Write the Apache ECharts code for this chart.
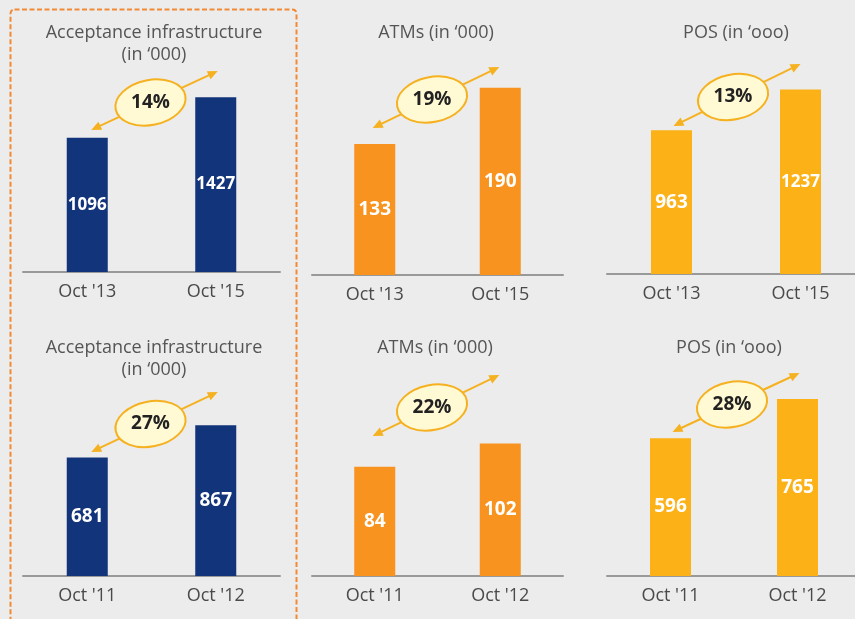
<!DOCTYPE html>
<html>
<head>
<meta charset="utf-8">
<script src="https://cdn.jsdelivr.net/npm/echarts@6/dist/echarts.min.js"></script>
<style>
  html, body { margin: 0; padding: 0; background: #ececec; overflow: hidden; }
  #main { width: 870px; height: 619px; }
</style>
</head>
<body>
<div id="main"></div>
<script>
// chart data
const titles = [
  'Acceptance infrastructure\n(in ‘000)', 'ATMs (in ‘000)', 'POS (in ‘ooo)',
  'Acceptance infrastructure\n(in ‘000)', 'ATMs (in ‘000)', 'POS (in ‘ooo)'
];
const periodsTop = ["Oct '13", "Oct '15"];
const periodsBottom = ["Oct '11", "Oct '12"];
const acceptanceTop = [1096, 1427];
const atmsTop = [133, 190];
const posTop = [963, 1237];
const acceptanceBottom = [681, 867];
const atmsBottom = [84, 102];
const posBottom = [596, 765];
const growth = ['14%', '19%', '13%', '27%', '22%', '28%'];

const periods = [periodsTop, periodsTop, periodsTop, periodsBottom, periodsBottom, periodsBottom];
const values = [acceptanceTop, atmsTop, posTop, acceptanceBottom, atmsBottom, posBottom];

// layout
const colors = ['#12347a', '#f7931e', '#fcb116', '#12347a', '#f7931e', '#fcb116'];
const axisMax = [1600, 200, 1300, 1000, 120, 800];
const grids = [
  { left: 23, width: 257, top: 76, bottom: 619 - 272 },
  { left: 312, width: 251, top: 78, bottom: 619 - 275 },
  { left: 607, width: 258, top: 80, bottom: 619 - 274 },
  { left: 23, width: 257, top: 402, bottom: 619 - 576 },
  { left: 312, width: 251, top: 420, bottom: 619 - 576 },
  { left: 607, width: 254, top: 391, bottom: 619 - 576 }
];
const titlePos = [[154, 22], [436, 22], [736, 22], [154, 337], [435, 337], [729, 337]];
const labelMargin = [11, 11, 11, 11, 11, 11];
// arrow rise above axis at start / end
const arrowRise = [[142, 201], [147, 208], [148, 210], [124, 184], [140, 201], [144, 203]];
const arrowShift = [[4, 2], [-2, -1], [2, 0], [4, 2], [-2, -1], [2, 2]];

const font = '"Open Sans", "Noto Sans", sans-serif';

const chart = echarts.init(document.getElementById('main'));

const option = {
  backgroundColor: '#ececec',
  animation: false,
  title: titles.map((t, i) => ({
    text: t,
    left: titlePos[i][0],
    top: titlePos[i][1],
    textAlign: 'center',
    padding: 0,
    textStyle: { fontFamily: font, fontSize: 18, fontWeight: 'normal', color: '#555', lineHeight: 22 }
  })),
  grid: grids,
  xAxis: periods.map((p, i) => ({
    type: 'category',
    gridIndex: i,
    data: p,
    axisTick: { show: false },
    axisLine: { lineStyle: { color: '#999', width: 2 } },
    axisLabel: { fontFamily: font, fontSize: 18, color: '#4a4a4a', margin: labelMargin[i] }
  })),
  yAxis: values.map((v, i) => ({
    type: 'value',
    gridIndex: i,
    min: 0,
    max: axisMax[i],
    show: false,
    splitLine: { show: false }
  })),
  series: values.map((v, i) => ({
    type: 'bar',
    xAxisIndex: i,
    yAxisIndex: i,
    data: v,
    barWidth: 41,
    itemStyle: { color: colors[i] },
    label: {
      show: true,
      position: 'inside',
      fontFamily: font,
      fontSize: 19,
      fontWeight: 'bold',
      color: '#fff',
      // four-digit numbers are squeezed to fit the bar in the original
      formatter: p => p.value >= 1000 ? '{n|' + p.value + '}' : String(p.value),
      rich: {
        n: { fontFamily: font, fontSize: 17, fontWeight: 'bold', color: '#fff' }
      }
    }
  }))
};
chart.setOption(option);

// growth annotations: double arrow with ellipse badge
const arrowColor = '#f5b120';
function arrowHead(x, y, ang) {
  const len = 10, half = 4.5;
  const bx = x - len * Math.cos(ang), by = y - len * Math.sin(ang);
  const nx = -Math.sin(ang) * half, ny = Math.cos(ang) * half;
  return {
    type: 'polygon',
    shape: { points: [[x, y], [bx + nx, by + ny], [bx - nx, by - ny]] },
    style: { fill: arrowColor }
  };
}

const graphics = [{
  type: 'rect',
  shape: { x: 10.5, y: 9.5, width: 286, height: 640, r: 4 },
  style: { fill: 'none', stroke: '#f28a35', lineWidth: 2, lineDash: [5, 2.5] }
}];

values.forEach((v, i) => {
  const p0 = chart.convertToPixel({ gridIndex: i }, [0, 0]);
  const p1 = chart.convertToPixel({ gridIndex: i }, [1, 0]);
  const sx = p0[0] + arrowShift[i][0], sy = p0[1] - arrowRise[i][0];
  const ex = p1[0] + arrowShift[i][1], ey = p1[1] - arrowRise[i][1];
  const ang = Math.atan2(ey - sy, ex - sx);
  const cx = (sx + ex) / 2 - 4, cy = (sy + ey) / 2 + 2;
  graphics.push({
    type: 'line',
    shape: { x1: sx + 6 * Math.cos(ang), y1: sy + 6 * Math.sin(ang), x2: ex - 6 * Math.cos(ang), y2: ey - 6 * Math.sin(ang) },
    style: { stroke: arrowColor, lineWidth: 2 }
  });
  graphics.push(arrowHead(ex, ey, ang));
  graphics.push(arrowHead(sx, sy, ang + Math.PI));
  graphics.push({
    type: 'ellipse',
    x: cx, y: cy,
    rotation: 0.2,
    shape: { cx: 0, cy: 0, rx: 35.5, ry: 22.5 },
    style: { fill: '#fff9d4', stroke: arrowColor, lineWidth: 2 }
  });
  graphics.push({
    type: 'text',
    x: cx, y: cy,
    style: {
      text: growth[i],
      fontFamily: font,
      fontSize: 19,
      fontWeight: 'bold',
      fill: '#222',
      textAlign: 'center',
      textVerticalAlign: 'middle'
    }
  });
});

chart.setOption({ graphic: graphics });
</script>
</body>
</html>
